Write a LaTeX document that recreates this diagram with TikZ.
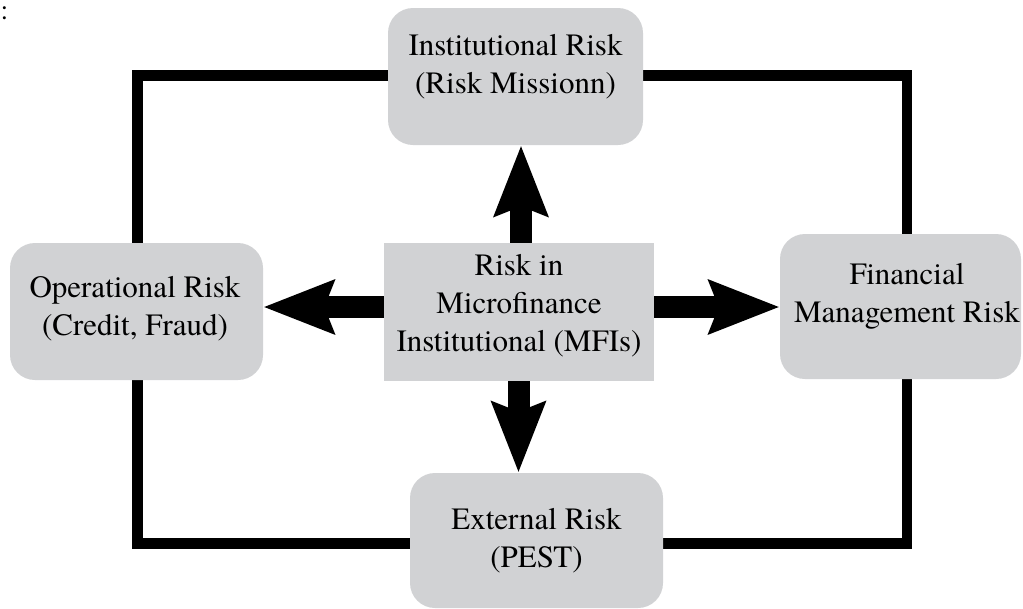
\documentclass[tikz,border=0pt]{standalone}
\usepackage{fontspec}
\newfontfamily\tnr{texgyretermes-regular.otf}
\usetikzlibrary{arrows.meta}
\definecolor{boxgray}{RGB}{209,210,212}
\begin{document}
\begin{tikzpicture}[x=1pt,y=-1pt,
  box/.style={fill=boxgray, draw=none, rounded corners=25pt, inner sep=0pt},
  cbox/.style={fill=boxgray, draw=none, inner sep=0pt},
  txt/.style={font=\tnr\fontsize{31}{38}\selectfont, align=center, inner sep=0pt},
  frameline/.style={line width=10.5pt, line join=miter},
  bigarrow/.style={line width=22pt, -{Stealth[length=70pt, width=52pt, inset=9pt]}}]
\useasboundingbox (0,0) rectangle (1023,608);
% colon mark at top left
\node[font=\tnr\fontsize{28}{28}\selectfont, inner sep=0pt, anchor=west] (colon) at (0.5,13) {:};
% frame
\coordinate (TL) at (137.5,75.5);
\coordinate (BR) at (907,543.5);
\draw[frameline] (TL) rectangle (BR);
% boxes
\node[box, minimum width=255pt, minimum height=137pt] (top) at (515.5,76.5) {};
\node[box, minimum width=253pt, minimum height=137pt] (left) at (136.5,311.5) {};
\node[box, minimum width=241pt, minimum height=145pt] (right) at (900.5,306.5) {};
\node[box, minimum width=253pt, minimum height=135pt] (bottom) at (536.5,540.5) {};
\node[cbox, minimum width=270pt, minimum height=138pt] (center) at (519,312) {};
% texts
\node[txt] (toptxt) at (515.5,67) {Institutional Risk\\(Risk Missionn)};
\node[txt] (lefttxt) at (135,309) {Operational Risk\\(Credit, Fraud)};
\node[txt] (righttxt) at (907,296) {Financial\\Management Risk};
\node[txt] (bottomtxt) at (536.5,541) {External Risk\\(PEST)};
\node[txt] (centertxt) at (519,306) {Risk in\\Microfinance\\Institutional (MFIs)};
% arrows
\draw[bigarrow] (center.north -| 521,0) -- (521,0 |- top.south);
\draw[bigarrow] (center.west |- 0,307) -- (left.east |- 0,307);
\draw[bigarrow] (center.east |- 0,307) -- (right.west |- 0,307);
\draw[bigarrow] (center.south -| 518.5,0) -- (518.5,0 |- bottom.north);
\end{tikzpicture}
\end{document}
